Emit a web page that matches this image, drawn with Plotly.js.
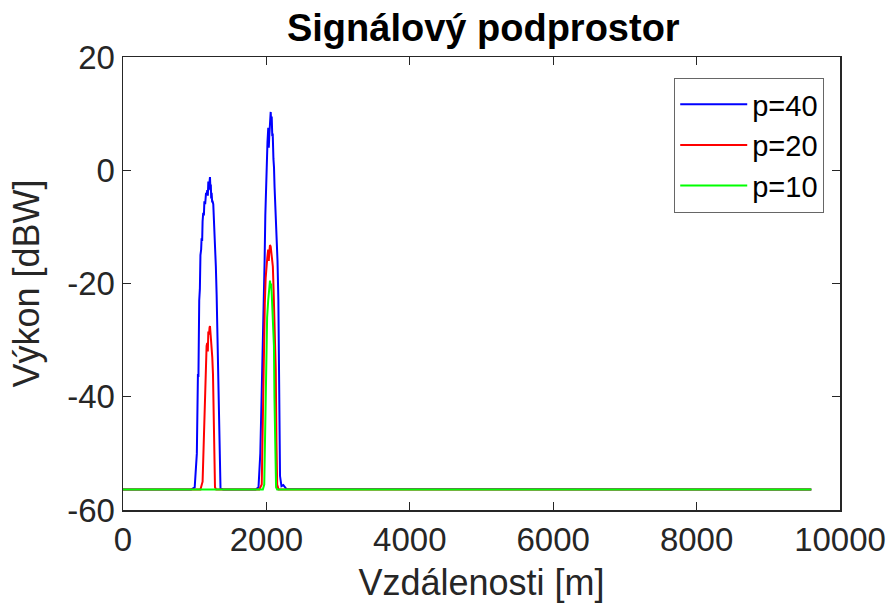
<!DOCTYPE html>
<html>
<head>
<meta charset="utf-8">
<script src="https://cdn.plot.ly/plotly-3.0.1.min.js"></script>
<style>html,body{margin:0;padding:0;background:#fff;}#chart{width:895px;height:615px;}</style>
</head>
<body>
<div id="chart"></div>
<script>
// Series names
const seriesNames = ["p=40", "p=20", "p=10"];

// p=40 (blue)
const x40 = [0, 950, 1000, 1030, 1045, 1052, 1063, 1072, 1080, 1090, 1096, 1104, 1110, 1119, 1128, 1135, 1146, 1158, 1166, 1175, 1183, 1190, 1196, 1200, 1207, 1213, 1219, 1225, 1230, 1236, 1243, 1250, 1259, 1270, 1283, 1295, 1306, 1318, 1330, 1345, 1360, 1400,
             1850, 1890, 1915, 1933, 1945, 1952, 1957, 1966, 1975, 1985, 1994, 2004, 2010, 2015, 2026, 2033, 2040, 2050, 2055, 2060, 2068, 2074, 2082, 2088, 2098, 2106, 2114, 2120, 2132, 2144, 2155, 2167, 2175, 2181, 2190, 2210, 2236, 2280, 9600];
const y40 = [-56.4, -56.4, -56, -50, -36, -36.5, -23, -21, -15, -14, -12, -12.5, -9, -7.5, -8, -5.5, -6, -4, -4.5, -3.5, -4.5, -2, -3.5, -3, -1.5, -1.2, -3, -2.5, -5, -4, -5.5, -5.5, -6, -9, -13, -17, -22, -30, -40, -52, -56.2, -56.4,
             -56.4, -56, -50, -40, -33, -33.5, -28, -23, -16, -8, -2.5, 3, 1.5, 5, 7.5, 4, 6, 9, 8, 10.3, 8, 9.5, 6, 6.5, 2, 0.5, -3, -5, -8, -11, -16, -23, -32, -41, -54, -55.8, -55.6, -56.3, -56.4];

// p=20 (red)
const x20 = [0, 1080, 1110, 1119, 1130, 1143, 1150, 1158, 1166, 1175, 1183, 1190, 1200, 1207, 1213, 1222, 1236, 1245, 1255, 1265, 1283, 1300,
             1900, 1935, 1948, 1957, 1966, 1972, 1978, 1990, 2000, 2012, 2025, 2033, 2040, 2050, 2060, 2070, 2080, 2090, 2100, 2110, 2120, 2130, 2140, 2150, 2170, 9600];
const y20 = [-56.4, -56.4, -55, -51, -45, -39, -38, -32, -31, -30.5, -32, -28.5, -29, -27.8, -27.5, -29, -31, -33, -36, -44, -56, -56.4,
             -56.4, -55.5, -45, -35, -25, -25.5, -23.5, -19, -16, -15.5, -14, -16, -14.5, -13.2, -13.5, -15, -15.5, -17, -21, -25, -27, -35, -48, -55.5, -56.4, -56.4];

// p=10 (green)
const x10 = [0, 1950, 1970, 1980, 1990, 2000, 2010, 2025, 2040, 2050, 2058, 2066, 2075, 2085, 2095, 2105, 2112, 2122, 2135, 2150, 9600];
const y10 = [-56.4, -56.4, -55.5, -48, -38, -30, -26, -23, -21, -19.5, -20.5, -20, -22, -25, -27, -31, -40, -50, -56, -56.4, -56.4];

const xTicks = [0, 2000, 4000, 6000, 8000, 10000];
const yTicks = [-60, -40, -20, 0, 20];

const FONT = "Liberation Sans, Arial, Helvetica, sans-serif";
const AX = "#262626";

const traces = [
  {x: x40, y: y40, name: seriesNames[0], type: "scatter", mode: "lines", line: {color: "#0000FF", width: 2}},
  {x: x20, y: y20, name: seriesNames[1], type: "scatter", mode: "lines", line: {color: "#FF0000", width: 2}},
  {x: x10, y: y10, name: seriesNames[2], type: "scatter", mode: "lines", line: {color: "#00FF00", width: 2}}
];

const axisCommon = {
  showgrid: false, zeroline: false, showline: true, linecolor: AX, linewidth: 1.5,
  mirror: "ticks", ticks: "inside", ticklen: 8, tickwidth: 1.2, tickcolor: AX,
  tickfont: {family: FONT, size: 33, color: AX}, automargin: false
};

const layout = {
  width: 895, height: 615,
  margin: {l: 123, r: 55, t: 57, b: 105},
  paper_bgcolor: "#fff", plot_bgcolor: "#fff",
  font: {family: FONT, color: AX},
  title: {text: "<b>Signálový podprostor</b>", font: {family: FONT, size: 38, color: "#000"},
          x: 0.54, xanchor: "center", xref: "container", y: 1 - 28/615, yanchor: "middle", yref: "container"},
  xaxis: Object.assign({}, axisCommon, {range: [0, 10000], tickvals: xTicks, ticktext: xTicks.map(String),
          title: {text: "Vzdálenosti [m]", font: {family: FONT, size: 36, color: AX}, standoff: 12}}),
  yaxis: Object.assign({}, axisCommon, {range: [-60, 20], tickvals: yTicks, ticktext: yTicks.map(String),
          title: {text: "Výkon [dBW]", font: {family: FONT, size: 36, color: AX}, standoff: 16}}),
  showlegend: true,
  legend: {x: 0.978, xanchor: "right", y: 0.954, yanchor: "top", bgcolor: "#fff",
           bordercolor: "#666", borderwidth: 1, font: {family: FONT, size: 29, color: "#000"}, itemwidth: 67,
           tracegroupgap: 0}
};

Plotly.newPlot("chart", traces, layout, {displayModeBar: false, staticPlot: true});
</script>
</body>
</html>
